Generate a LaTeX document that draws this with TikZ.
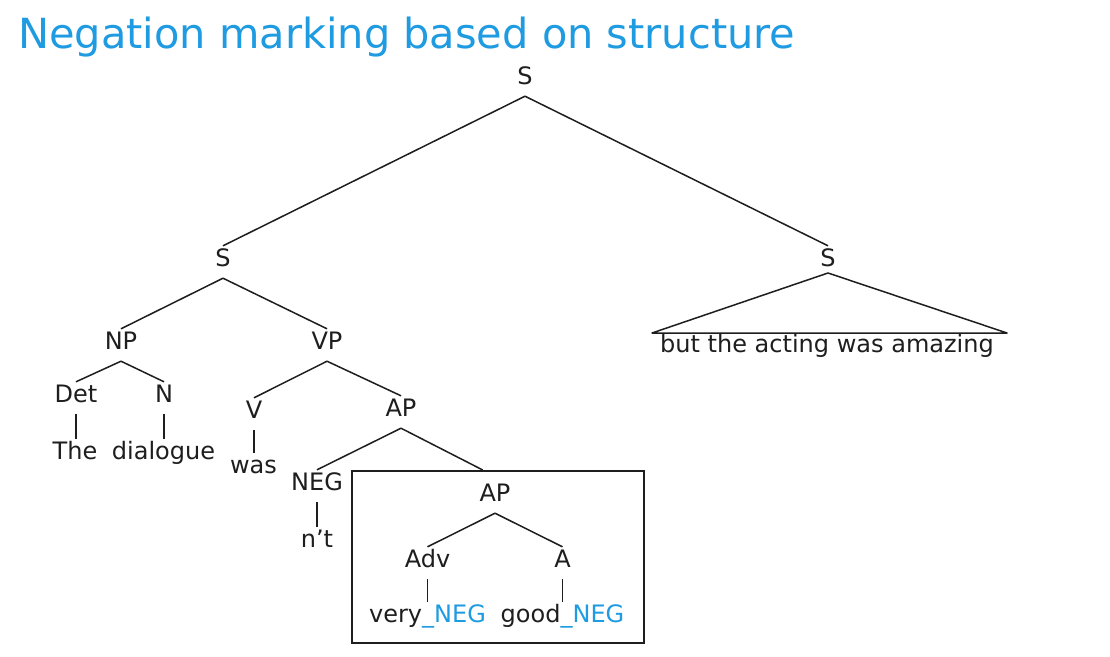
\documentclass[tikz,border=0pt]{standalone}
\usepackage{fontspec}
\setmainfont{DejaVu Sans}
\definecolor{tblue}{RGB}{30,155,225}
\definecolor{ink}{RGB}{30,30,30}
\begin{document}
\begin{tikzpicture}[x=1pt,y=-1pt,
  lab/.style={font=\fontsize{24}{28}\selectfont, text=ink, text height=18pt, text depth=10pt, inner sep=2pt, anchor=base},
  edge/.style={draw=ink, line width=1.5pt},
  titlestyle/.style={font=\fontsize{41.5}{46}\selectfont, text=tblue, inner sep=0pt, anchor=base west}]
\useasboundingbox[fill=white] (0,0) rectangle (1110,656);
\node[titlestyle] (title) at (18,48) {Negation marking based on structure};
% nodes
\node[lab] (s0) at (525,84) {S};
\node[lab] (s1) at (223,266) {S};
\node[lab] (s2) at (828,266) {S};
\node[lab] (np) at (121,349) {NP};
\node[lab] (vp) at (327,349) {VP};
\node[lab] (det) at (76,402) {Det};
\node[lab] (n) at (164,402) {N};
\node[lab] (v) at (254,418) {V};
\node[lab] (ap1) at (401,416) {AP};
\node[lab] (neg) at (317,490) {NEG};
\node[lab] (ap2) at (495,501) {AP};
\node[lab] (adv) at (427.5,567) {Adv};
\node[lab] (a) at (562.5,567) {A};
\node[lab] (the) at (75,459) {The};
\node[lab] (dial) at (163.5,459) {dialogue};
\node[lab] (was) at (253.5,473) {was};
\node[lab] (nt) at (317,547) {n’t};
\node[lab] (very) at (427.5,622) {very{\color{tblue}\_NEG}};
\node[lab] (good) at (562.5,622) {good{\color{tblue}\_NEG}};
\node[lab] (but) at (827,352) {but the acting was amazing};
\node[draw=ink, line width=1.5pt, minimum width=292pt, minimum height=172pt, anchor=north west, inner sep=0pt] (box) at (351,470) {};
\coordinate (apex) at (828,273);
\coordinate (bl) at (652,333);
\coordinate (br) at (1007,333);
% edges
\draw[edge] (s0.south) -- (s1.north);
\draw[edge] (s0.south) -- (s2.north);
\draw[edge] (s1.south) -- (np.north);
\draw[edge] (s1.south) -- (vp.north);
\draw[edge] (np.south) -- (det.north);
\draw[edge] (np.south) -- (n.north);
\draw[edge] (det.south) -- (the.north -| det.south);
\draw[edge] (n.south) -- (dial.north -| n.south);
\draw[edge] (vp.south) -- (v.north);
\draw[edge] (vp.south) -- (ap1.north);
\draw[edge] (v.south) -- (was.north -| v.south);
\draw[edge] (ap1.south) -- (neg.north);
\draw[edge] (ap1.south) -- ([xshift=-15pt]box.north);
\draw[edge] (neg.south) -- (nt.north);
\draw[edge] (ap2.south) -- (adv.north);
\draw[edge] (ap2.south) -- (a.north);
\draw[edge] (adv.south) -- (very.north -| adv.south);
\draw[edge] (a.south) -- (good.north -| a.south);
\draw[edge, line join=round] (bl) -- (apex) -- (br) -- cycle;
\end{tikzpicture}
\end{document}
